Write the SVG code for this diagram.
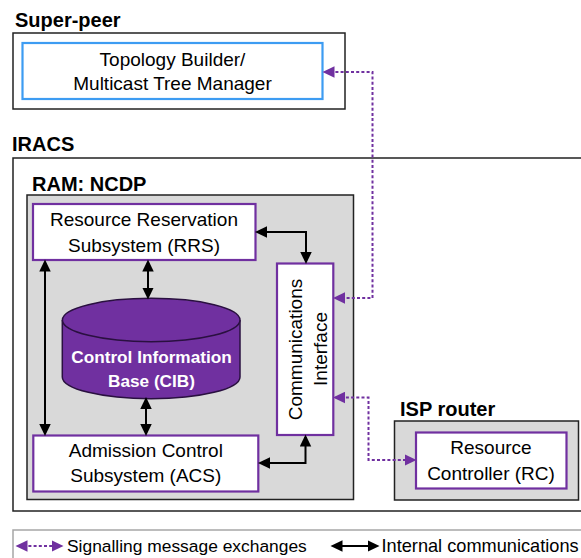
<svg xmlns="http://www.w3.org/2000/svg" width="581" height="558" viewBox="0 0 581 558">
<style>
text{font-family:"Liberation Sans",Arial,sans-serif;fill:#000}
.title{font-weight:bold;font-size:20px}
.lbl{font-size:19px;text-anchor:middle}
.frame{fill:#fff;stroke:#222;stroke-width:1.5}
.grey{fill:#d9d9d9;stroke:#222;stroke-width:1.5}
.pbox{fill:#fff;stroke:#7030a0;stroke-width:2.2}
.blk{fill:none;stroke:#000;stroke-width:2;marker-start:url(#ab);marker-end:url(#ab)}
.sig{fill:none;stroke:#7030a0;stroke-width:2;stroke-dasharray:3 2.2;marker-start:url(#ap);marker-end:url(#ap)}
.cib{font-weight:bold;font-size:17.2px;fill:#fff;text-anchor:middle}
</style>
<defs>
<marker id="ab" markerUnits="userSpaceOnUse" markerWidth="13" markerHeight="12" refX="9.5" refY="5.75" orient="auto-start-reverse" viewBox="0 0 13 11.5">
<path d="M0,0 L12,5.75 L0,11.5 z" fill="#000"/>
</marker>
<marker id="ap" markerUnits="userSpaceOnUse" markerWidth="13" markerHeight="12" refX="9.5" refY="5.75" orient="auto-start-reverse" viewBox="0 0 13 11.5">
<path d="M0,0 L12,5.75 L0,11.5 z" fill="#7030a0"/>
</marker>
</defs>
<rect width="581" height="558" fill="#fff"/>

<g id="super-peer">
<text class="title" x="15" y="27">Super-peer</text>
<rect class="frame" x="13" y="33" width="332" height="76"/>
</g>
<g id="topology-builder">
<rect x="22.5" y="43" width="300" height="56" fill="#fff" stroke="#3d9cf2" stroke-width="2.2"/>
<text class="lbl" x="172.5" y="66" font-size="18.5">Topology Builder/</text>
<text class="lbl" x="172.5" y="89.5" font-size="18.5">Multicast Tree Manager</text>
</g>

<g id="iracs">
<text class="title" x="12" y="151" font-size="19">IRACS</text>
<rect class="frame" x="13" y="158" width="590" height="353"/>
</g>

<g id="ram-ncdp">
<text class="title" x="32" y="190.5">RAM: NCDP</text>
<rect class="grey" x="27" y="195" width="326.5" height="304.5"/>
</g>

<g id="rrs">
<rect class="pbox" x="33" y="204" width="222.5" height="56"/>
<text class="lbl" x="144" y="225.5">Resource Reservation</text>
<text class="lbl" x="144" y="251.5">Subsystem (RRS)</text>
</g>

<g id="cib">
<path d="M62.3,320 L62.3,377 A88.8,21.7 0 0 0 240,377 L240,320" fill="#7030a0" stroke="#2a1040" stroke-width="1.5"/>
<ellipse cx="151.2" cy="320" rx="88.8" ry="21.7" fill="#7030a0" stroke="#2a1040" stroke-width="1.5"/>
<text class="cib" x="151.5" y="362.5">Control Information</text>
<text class="cib" x="151.5" y="386.5">Base (CIB)</text>
</g>

<g id="acs">
<rect class="pbox" x="33.3" y="435.5" width="225" height="56"/>
<text class="lbl" x="145.8" y="457">Admission Control</text>
<text class="lbl" x="145.8" y="482">Subsystem (ACS)</text>
</g>

<g id="comm-interface">
<rect class="pbox" x="277" y="263.5" width="56.3" height="171.5"/>
<text class="lbl" transform="translate(301.5,349.5) rotate(-90)" x="0" y="0">Communications</text>
<text class="lbl" transform="translate(327,349) rotate(-90)" x="0" y="0">Interface</text>
</g>

<g id="isp-router">
<text class="title" x="400" y="416">ISP router</text>
<rect class="grey" x="394.5" y="421" width="184" height="79"/>
</g>

<g id="rc">
<rect class="pbox" x="416" y="432.5" width="150.5" height="56"/>
<text class="lbl" x="491" y="454">Resource</text>
<text class="lbl" x="491" y="480">Controller (RC)</text>
</g>

<g id="connectors">
<path class="sig" d="M325,72 H372.5 V298 H335.5"/>
<path class="sig" d="M335.5,397.5 H368.5 V460 H414"/>
<path class="blk" d="M257.5,232 H306 V261.5"/>
<path class="blk" d="M260.5,463 H305.5 V437"/>
<path class="blk" d="M45,262 V433.5"/>
<path class="blk" d="M148,262 V297"/>
<path class="blk" d="M146,399.5 V433.5"/>
</g>

<g id="legend">
<rect x="13" y="530" width="590" height="50" fill="#fff" stroke="#a6a6a6" stroke-width="1.5"/>
<path class="sig" d="M18,546 H61"/>
<text x="67" y="552" font-size="17.4">Signalling message exchanges</text>
<path class="blk" d="M333,546 H377"/>
<text x="381.5" y="552" font-size="18.2">Internal communications</text>
</g>
</svg>
